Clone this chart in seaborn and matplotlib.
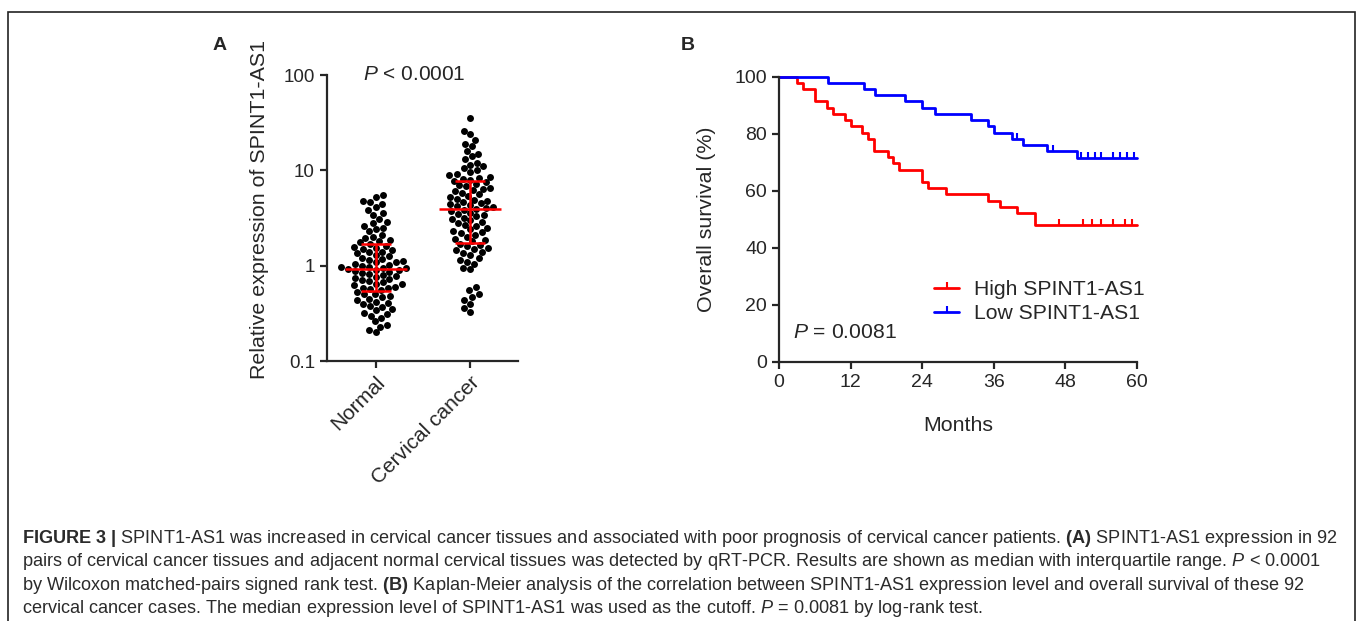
import numpy as np
import pandas as pd
import matplotlib
matplotlib.use("Agg")
import matplotlib.pyplot as plt
import matplotlib.font_manager as fm
import seaborn as sns
from matplotlib.lines import Line2D
from matplotlib.patches import Rectangle
from matplotlib.ticker import NullLocator

# ---- data ----
groups = ["Normal", "Cervical cancer"]

normal_expr = [5.5, 5.3, 4.8, 4.6, 4.4, 4.1, 3.8, 3.6, 3.4, 3.1, 2.9, 2.8,
               2.6, 2.5, 2.4, 2.3, 2.1, 2.0, 1.95, 1.85, 1.8, 1.75, 1.7,
               1.62, 1.58, 1.55, 1.5, 1.45, 1.4, 1.38, 1.35, 1.3, 1.25, 1.2,
               1.18, 1.15, 1.12, 1.1, 1.08, 1.05, 1.02, 1.0, 0.98, 0.97, 0.95, 0.94,
               0.92, 0.91, 0.9, 0.88, 0.86, 0.84, 0.82, 0.8, 0.78, 0.76, 0.74,
               0.72, 0.7, 0.69, 0.67, 0.65, 0.64, 0.62, 0.6, 0.59, 0.58, 0.57, 0.56,
               0.53, 0.51, 0.5, 0.48, 0.47, 0.45, 0.44, 0.42, 0.41, 0.4, 0.38,
               0.37, 0.35, 0.34, 0.32, 0.31, 0.3, 0.28, 0.26, 0.24, 0.23, 0.21, 0.2]

cancer_expr = [35, 26, 24, 21, 19, 18, 16, 15, 14, 13, 12, 11.5, 11, 10.5, 10,
               9.6, 9.2, 8.9, 8.6, 8.4, 8.2, 8.0, 7.8,
               7.5, 7.2, 7.0, 6.8, 6.6, 6.4, 6.2, 6.0, 5.8, 5.6, 5.4, 5.2, 5.0,
               4.9, 4.8, 4.6, 4.5, 4.4, 4.3, 4.2, 4.1, 4.0, 3.95,
               3.85, 3.7, 3.6, 3.5, 3.4, 3.3, 3.2, 3.1, 3.0, 2.9, 2.8, 2.7, 2.6,
               2.5, 2.4, 2.3, 2.25, 2.2, 2.1, 2.0, 1.9, 1.85, 1.8,
               1.7, 1.65, 1.6, 1.55, 1.5, 1.45, 1.4, 1.35, 1.3, 1.2, 1.15, 1.1,
               1.05, 0.95, 0.92, 0.6, 0.55, 0.5, 0.47, 0.44, 0.4, 0.36, 0.33]

km_groups = ["High SPINT1-AS1", "Low SPINT1-AS1"]
high_months = [0, 3, 4, 6, 8, 9, 11, 12, 14, 15, 16, 18.3, 19.2, 20.2, 24, 25,
               28, 35, 37, 40, 43, 60]
high_surv = [100, 97.8, 95.7, 91.3, 89.1, 87.0, 84.8, 82.6, 80.4, 78.3, 73.9,
             71.7, 69.6, 67.4, 63.0, 60.9, 58.7, 56.5, 54.3, 52.2, 47.8, 47.8]
high_cens_months = [47, 51, 52.5, 54, 56, 58, 59.2]
high_cens_surv = [47.8] * 7

low_months = [0, 8.2, 14.2, 16.1, 21.2, 24, 26.1, 32.2, 35, 36, 39, 40.9, 45, 50, 60]
low_surv = [100, 97.8, 95.7, 93.5, 91.3, 89.1, 87.0, 84.8, 82.6, 80.4, 78.3,
            76.0, 73.8, 71.6, 71.6]
low_cens_months = [39.9, 46.0, 50.6, 51.9, 53.0, 54.0, 56.1, 57.2, 58.3, 59.5]
low_cens_surv = [78.3, 73.8] + [71.6] * 8

caption_lines = [
    r"$\mathbf{FIGURE\ 3\ |}$ SPINT1-AS1 was increased in cervical cancer tissues and associated with poor prognosis of cervical cancer patients. $\mathbf{(A)}$ SPINT1-AS1 expression in 92",
    r"pairs of cervical cancer tissues and adjacent normal cervical tissues was detected by qRT-PCR. Results are shown as median with interquartile range. $P$ < 0.0001",
    r"by Wilcoxon matched-pairs signed rank test. $\mathbf{(B)}$ Kaplan-Meier analysis of the correlation between SPINT1-AS1 expression level and overall survival of these 92",
    r"cervical cancer cases. The median expression level of SPINT1-AS1 was used as the cutoff. $P$ = 0.0081 by log-rank test.",
]

# ---- style ----
sns.set_style("ticks")
installed = {f.name for f in fm.fontManager.ttflist}
main_font = "Liberation Sans" if "Liberation Sans" in installed else "DejaVu Sans"
plt.rcParams["font.family"] = [main_font, "DejaVu Sans"]
plt.rcParams["mathtext.fontset"] = "custom"
plt.rcParams["mathtext.rm"] = main_font
plt.rcParams["mathtext.it"] = main_font + ":italic"
plt.rcParams["mathtext.bf"] = main_font + ":bold"
plt.rcParams["axes.linewidth"] = 1.6
plt.rcParams["xtick.major.width"] = 1.6
plt.rcParams["ytick.major.width"] = 1.6
plt.rcParams["xtick.major.size"] = 5
plt.rcParams["ytick.major.size"] = 5

W, H = 1357, 621
fig = plt.figure(figsize=(W / 100, H / 100), dpi=100)
fig.patch.set_facecolor("white")

# ---- panel A ----
axA = fig.add_axes([326.7 / W, 1 - 361 / H, (518 - 326.7) / W, (361 - 75) / H])
expr = pd.DataFrame({
    "group": ["Normal"] * len(normal_expr) + ["Cervical cancer"] * len(cancer_expr),
    "value": normal_expr + cancer_expr,
})
sns.swarmplot(data=expr, x="group", y="value", order=groups, color="black",
              size=5, log_scale=True, ax=axA, zorder=2)
for i, g in enumerate(groups):
    v = expr.loc[expr.group == g, "value"]
    q1, med, q3 = np.percentile(v, [25, 50, 75], method="weibull")
    axA.hlines(med, i - 0.33, i + 0.33, color="red", lw=1.8, zorder=3)
    axA.hlines([q1, q3], i - 0.16, i + 0.16, color="red", lw=1.8, zorder=3)
    axA.vlines(i, q1, q3, color="red", lw=1.8, zorder=3)
axA.set_ylim(0.1, 100)
axA.set_xlim(-0.52, 1.51)
axA.set_yticks([0.1, 1, 10, 100])
axA.set_yticklabels(["0.1", "1", "10", "100"], fontsize=13.5)
axA.yaxis.set_minor_locator(NullLocator())
axA.set_xlabel("")
axA.set_xticks([0, 1])
axA.set_xticklabels(groups, rotation=45, ha="right", rotation_mode="anchor", fontsize=15)
axA.set_ylabel("Relative expression of SPINT1-AS1", fontsize=15.4)
axA.yaxis.set_label_coords(-0.30, 0.53)
axA.text(0.46, 0.982, "$P$ < 0.0001", transform=axA.transAxes, ha="center",
         va="baseline", fontsize=15)
sns.despine(ax=axA)

# ---- panel B ----
axB = fig.add_axes([779 / W, 1 - 361.7 / H, (1136.7 - 779) / W, (361.7 - 76.7) / H])
km = pd.DataFrame({
    "group": [km_groups[0]] * len(high_months) + [km_groups[1]] * len(low_months),
    "months": high_months + low_months,
    "surv": high_surv + low_surv,
})
palette = {km_groups[0]: "#ff0000", km_groups[1]: "#0000ff"}
sns.lineplot(data=km, x="months", y="surv", hue="group", hue_order=km_groups,
             palette=palette, estimator=None, drawstyle="steps-post", lw=2.0,
             legend=False, clip_on=False, ax=axB)
axB.plot(high_cens_months, high_cens_surv, ls="none", marker=2, ms=4, mew=1.5,
         color="#ff0000")
axB.plot(low_cens_months, low_cens_surv, ls="none", marker=2, ms=4, mew=1.5,
         color="#0000ff")
axB.set_xlim(0, 60)
axB.set_ylim(0, 100)
axB.set_xticks(range(0, 61, 12))
axB.set_yticks(range(0, 101, 20))
axB.tick_params(labelsize=14)
axB.set_xlabel("Months", fontsize=15.4)
axB.set_ylabel("Overall survival (%)", fontsize=15.4)
axB.xaxis.set_label_coords(0.5, -0.19)
axB.yaxis.set_label_coords(-0.175, 0.5)
axB.text(0.04, 0.07, "$P$ = 0.0081", transform=axB.transAxes, ha="left",
         va="bottom", fontsize=15.2)
handles = [Line2D([0], [0], color=palette[g], lw=2.0, marker=2, ms=4, mew=1.5)
           for g in km_groups]
axB.legend(handles, km_groups, loc="center left", bbox_to_anchor=(0.433, 0.21),
           frameon=False, fontsize=15.2, handlelength=1.2, handletextpad=0.7,
           labelspacing=0.25, borderpad=0, borderaxespad=0, numpoints=1)
sns.despine(ax=axB)

# ---- panel letters, caption, frame ----
fig.text(213 / W, 1 - 50.5 / H, "A", fontsize=14, weight="bold", va="baseline")
fig.text(681 / W, 1 - 50.5 / H, "B", fontsize=14, weight="bold", va="baseline")
for k, line in enumerate(caption_lines):
    fig.text(22 / W, 1 - (543 + 23.4 * k) / H, line, fontsize=13.1,
             color="#2b2b2b", va="baseline", ha="left")
fig.add_artist(Rectangle((8 / W, -0.1), (1355 - 8) / W, 1.1 - 12 / H,
                         transform=fig.transFigure, fill=False,
                         edgecolor="#222222", lw=1.2))

fig.savefig("out.png", dpi=100)
